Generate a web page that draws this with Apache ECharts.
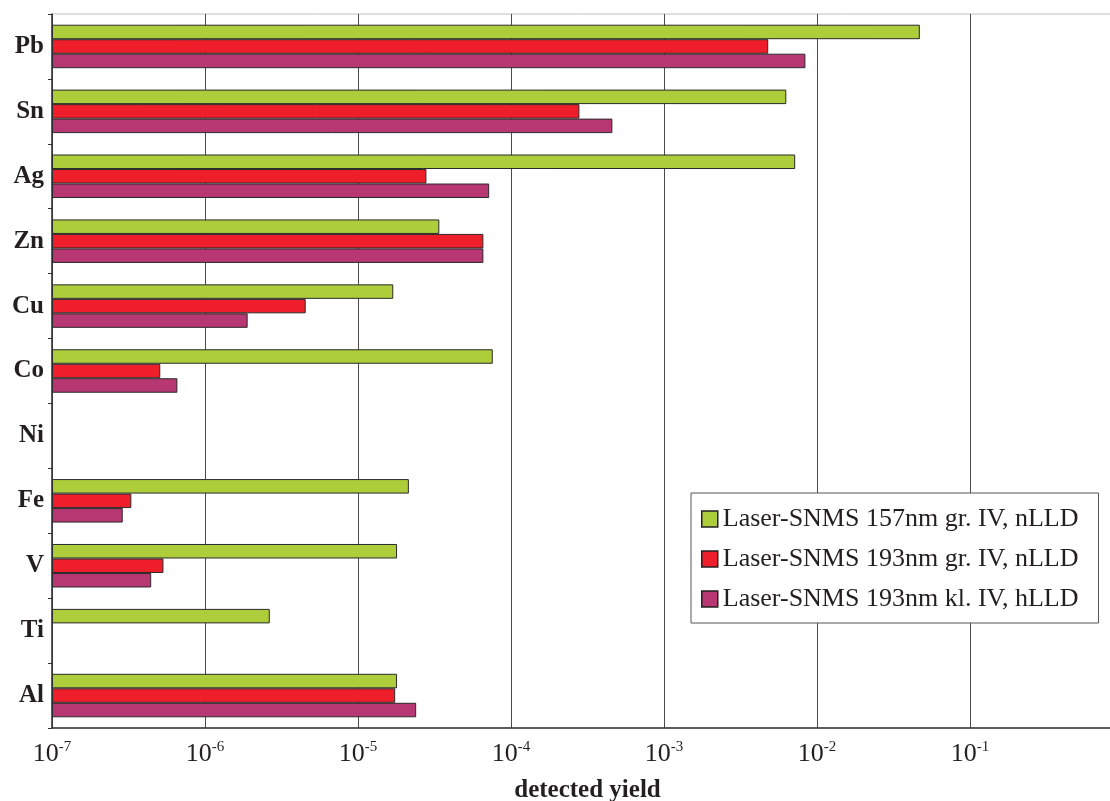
<!DOCTYPE html>
<html>
<head>
<meta charset="utf-8">
<script src="https://cdn.jsdelivr.net/npm/echarts@6/dist/echarts.min.js"></script>
<style>
  html, body { margin: 0; padding: 0; background: #fff; }
  #chart { width: 1110px; height: 801px; }
</style>
</head>
<body>
<div id="chart"></div>
<script>
// Elements, listed top to bottom
const elements = ['Pb', 'Sn', 'Ag', 'Zn', 'Cu', 'Co', 'Ni', 'Fe', 'V', 'Ti', 'Al'];

const seriesNames = [
  'Laser-SNMS 157nm gr. IV, nLLD',
  'Laser-SNMS 193nm gr. IV, nLLD',
  'Laser-SNMS 193nm kl. IV, hLLD'
];

// Detected yield per element (null = not measured)
const yield157gr = [4.7e-2, 6.3e-3, 7.2e-3, 3.4e-5, 1.7e-5, 7.6e-5, null, 2.15e-5, 1.8e-5, 2.65e-6, 1.8e-5];
const yield193gr = [4.8e-3, 2.8e-4, 2.8e-5, 6.6e-5, 4.55e-6, 5.1e-7, null, 3.3e-7, 5.35e-7, null, 1.75e-5];
const yield193kl = [8.4e-3, 4.6e-4, 7.2e-5, 6.6e-5, 1.9e-6, 6.6e-7, null, 2.9e-7, 4.45e-7, null, 2.4e-5];

const colors = ['#aecd3b', '#ee1f2b', '#b63771'];
const serif = '"Liberation Serif", "Times New Roman", serif';
const ink = '#231f20';

const chart = echarts.init(document.getElementById('chart'), null, { renderer: 'canvas' });

function barSeries(name, data, color) {
  return {
    name: name,
    type: 'bar',
    data: data,
    barGap: '0%',
    barCategoryGap: '33%',
    itemStyle: { color: color, borderColor: '#2a2a2a', borderWidth: 1 },
    emphasis: { disabled: true },
    animation: false
  };
}

chart.setOption({
  animation: false,
  backgroundColor: '#fff',
  grid: {
    left: 52, right: -13, top: 14, bottom: 73,
    outerBoundsMode: 'none',
    show: true, borderColor: '#c0c0c0', borderWidth: 1, containLabel: false
  },
  legend: {
    orient: 'vertical',
    left: 691, top: 493,
    padding: [13, 20, 11, 10],
    itemWidth: 16, itemHeight: 16, itemGap: 14,
    icon: 'rect',
    borderColor: '#555', borderWidth: 1, backgroundColor: '#fff',
    itemStyle: { borderColor: '#222', borderWidth: 1.5 },
    textStyle: { fontFamily: serif, fontSize: 26, color: ink, lineHeight: 25 },
    selectedMode: false,
    data: seriesNames
  },
  xAxis: {
    type: 'log',
    logBase: 10,
    min: 1e-7,
    max: 1,
    startValue: 1e-7,
    splitNumber: 7,
    name: 'detected yield',
    nameLocation: 'middle',
    nameGap: 50,
    nameTextStyle: { fontFamily: serif, fontSize: 25, fontWeight: 'bold', color: ink },
    axisLine: { show: true, lineStyle: { color: '#333', width: 1.5 } },
    axisTick: { show: false },
    splitLine: { show: true, lineStyle: { color: '#4a4a4a', width: 1 } },
    minorTick: { show: false },
    axisLabel: {
      margin: 12,
      formatter: function (v) {
        const e = Math.round(Math.log10(v));
        if (e >= 0) return '';
        return '{b|10}{s|' + e + '}';
      },
      rich: {
        b: { fontFamily: serif, fontSize: 26, color: ink, lineHeight: 28 },
        s: { fontFamily: serif, fontSize: 15, color: ink, lineHeight: 14, verticalAlign: 'top' }
      }
    }
  },
  yAxis: {
    type: 'category',
    inverse: true,
    data: elements,
    axisLine: { show: true, lineStyle: { color: '#333', width: 1.5 } },
    axisTick: { show: true, length: 4, lineStyle: { color: '#333' } },
    axisLabel: { fontFamily: serif, fontSize: 25, fontWeight: 'bold', color: ink, margin: 8 },
    splitLine: { show: false }
  },
  series: [
    barSeries(seriesNames[0], yield157gr, colors[0]),
    barSeries(seriesNames[1], yield193gr, colors[1]),
    barSeries(seriesNames[2], yield193kl, colors[2])
  ]
});
</script>
</body>
</html>
